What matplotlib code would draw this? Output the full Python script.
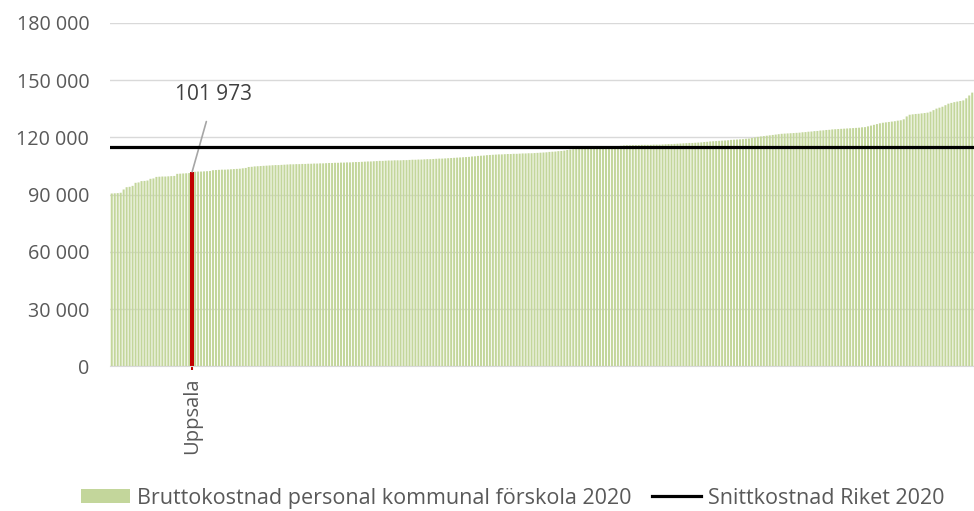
import numpy as np
import matplotlib.pyplot as plt
from matplotlib.patches import Patch
from matplotlib.lines import Line2D

plt.rcParams['font.family'] = ['Open Sans', 'DejaVu Sans']

# bruttokostnad per kommun, sorterad stigande (290 kommuner)
costs = [
    90600, 90700, 90800, 91000, 92700, 93900, 94100, 94600, 96200, 96400,
    97100, 97200, 97400, 98300, 98500, 99300, 99400, 99500, 99500, 99600,
    99700, 99800, 100900, 101000, 101100, 101200, 101300, 101973, 102000, 102100,
    102100, 102200, 102300, 102400, 102800, 102900, 103000, 103100, 103100, 103200,
    103300, 103400, 103500, 103600, 103800, 104000, 104500, 104600, 104800, 104900,
    105000, 105100, 105200, 105300, 105400, 105500, 105500, 105600, 105700, 105800,
    105900, 105900, 106000, 106000, 106100, 106100, 106200, 106200, 106300, 106300,
    106400, 106400, 106500, 106600, 106600, 106700, 106700, 106800, 106800, 106900,
    106900, 107000, 107100, 107100, 107200, 107300, 107400, 107400, 107500, 107600,
    107700, 107700, 107800, 107900, 107900, 108000, 108000, 108000, 108100, 108100,
    108200, 108300, 108300, 108400, 108400, 108500, 108600, 108600, 108700, 108800,
    108900, 108900, 109000, 109100, 109200, 109300, 109400, 109500, 109600, 109700,
    109800, 110000, 110100, 110300, 110400, 110500, 110700, 110800, 110900, 111000,
    111100, 111100, 111200, 111300, 111300, 111400, 111400, 111500, 111600, 111600,
    111700, 111700, 111800, 111900, 112000, 112100, 112200, 112400, 112500, 112600,
    112800, 112900, 113100, 113400, 113600, 113800, 113900, 114000, 114100, 114200,
    114300, 114400, 114500, 114600, 114700, 114800, 114900, 115000, 115100, 115300,
    115400, 115600, 115800, 115900, 115900, 116000, 116000, 116000, 116100, 116100,
    116100, 116100, 116200, 116200, 116200, 116300, 116400, 116500, 116500, 116600,
    116700, 116800, 116900, 117000, 117100, 117100, 117200, 117300, 117400, 117600,
    117700, 117900, 118000, 118100, 118200, 118300, 118400, 118500, 118700, 118800,
    118900, 119000, 119100, 119300, 119400, 119700, 120000, 120300, 120500, 120700,
    120900, 121100, 121300, 121500, 121700, 121900, 122000, 122100, 122200, 122300,
    122400, 122500, 122700, 122800, 123000, 123100, 123300, 123400, 123600, 123700,
    123900, 124000, 124200, 124300, 124400, 124500, 124600, 124700, 124800, 124900,
    125000, 125100, 125300, 125400, 125800, 126200, 126600, 127000, 127400, 127700,
    127900, 128100, 128300, 128500, 128800, 129000, 129500, 131000, 131900, 132100,
    132300, 132400, 132600, 132800, 133000, 133500, 134300, 135100, 135600, 136100,
    136900, 137700, 138100, 138500, 138800, 139100, 139400, 140500, 142000, 143500,
]
uppsala_idx = 27
uppsala_name = "Uppsala"
riket_avg = 115000
yticks = [0, 30000, 60000, 90000, 120000, 150000, 180000]

green = "#c3d69b"
red = "#c00000"
grey = "#595959"

fig = plt.figure(figsize=(9.74, 5.11), dpi=100)
ax = fig.add_axes([0.1129, 0.2832, 0.8871, 0.6718])

x = np.arange(len(costs))
others = [c for i, c in enumerate(costs) if i != uppsala_idx]
ax.bar(np.delete(x, uppsala_idx), others, width=0.68, color=green, lw=0,
       snap=False, zorder=2)
ax.bar(uppsala_idx, costs[uppsala_idx], width=1.4, color=red, lw=0, zorder=3)
ax.axhline(riket_avg, color="black", lw=2.3, zorder=4)

ax.set_ylim(0, 180000)
ax.set_xlim(-0.6, len(costs) - 0.4)
ax.set_yticks(yticks)
ax.set_yticklabels([f"{v:,}".replace(",", " ") for v in yticks])
ax.set_xticks([uppsala_idx])
ax.set_xticklabels([uppsala_name], rotation=90)
ax.tick_params(axis="y", length=0, pad=15, labelsize=14.2, labelcolor=grey)
ax.tick_params(axis="x", length=3, width=1.5, color=red, pad=5,
               labelsize=14.5, labelcolor=grey)
ax.grid(axis="y", color="#d9d9d9", lw=1, zorder=0)
for s in ["top", "right", "left"]:
    ax.spines[s].set_visible(False)
ax.spines["bottom"].set_color("#d9d9d9")
ax.spines["bottom"].set_zorder(5)

ax.annotate(f"{costs[uppsala_idx]:,}".replace(",", " "),
            xy=(uppsala_idx, costs[uppsala_idx]), xytext=(34.3, 142300),
            ha="center", va="center", fontsize=15, color="#404040",
            arrowprops=dict(arrowstyle="-", color="#a6a6a6", lw=1.2,
                            shrinkA=10, shrinkB=0))

handles = [Patch(facecolor=green, edgecolor="none"),
           Line2D([0], [0], color="black", lw=2.3)]
fig.legend(handles, ["Bruttokostnad personal kommunal förskola 2020",
                     "Snittkostnad Riket 2020"],
           loc="center", bbox_to_anchor=(0.526, 0.025), ncol=2, frameon=False,
           fontsize=15.5, labelcolor=grey, handlelength=2.3, handleheight=0.65,
           handletextpad=0.3, columnspacing=0.95)

fig.savefig("out.png", dpi=100)
